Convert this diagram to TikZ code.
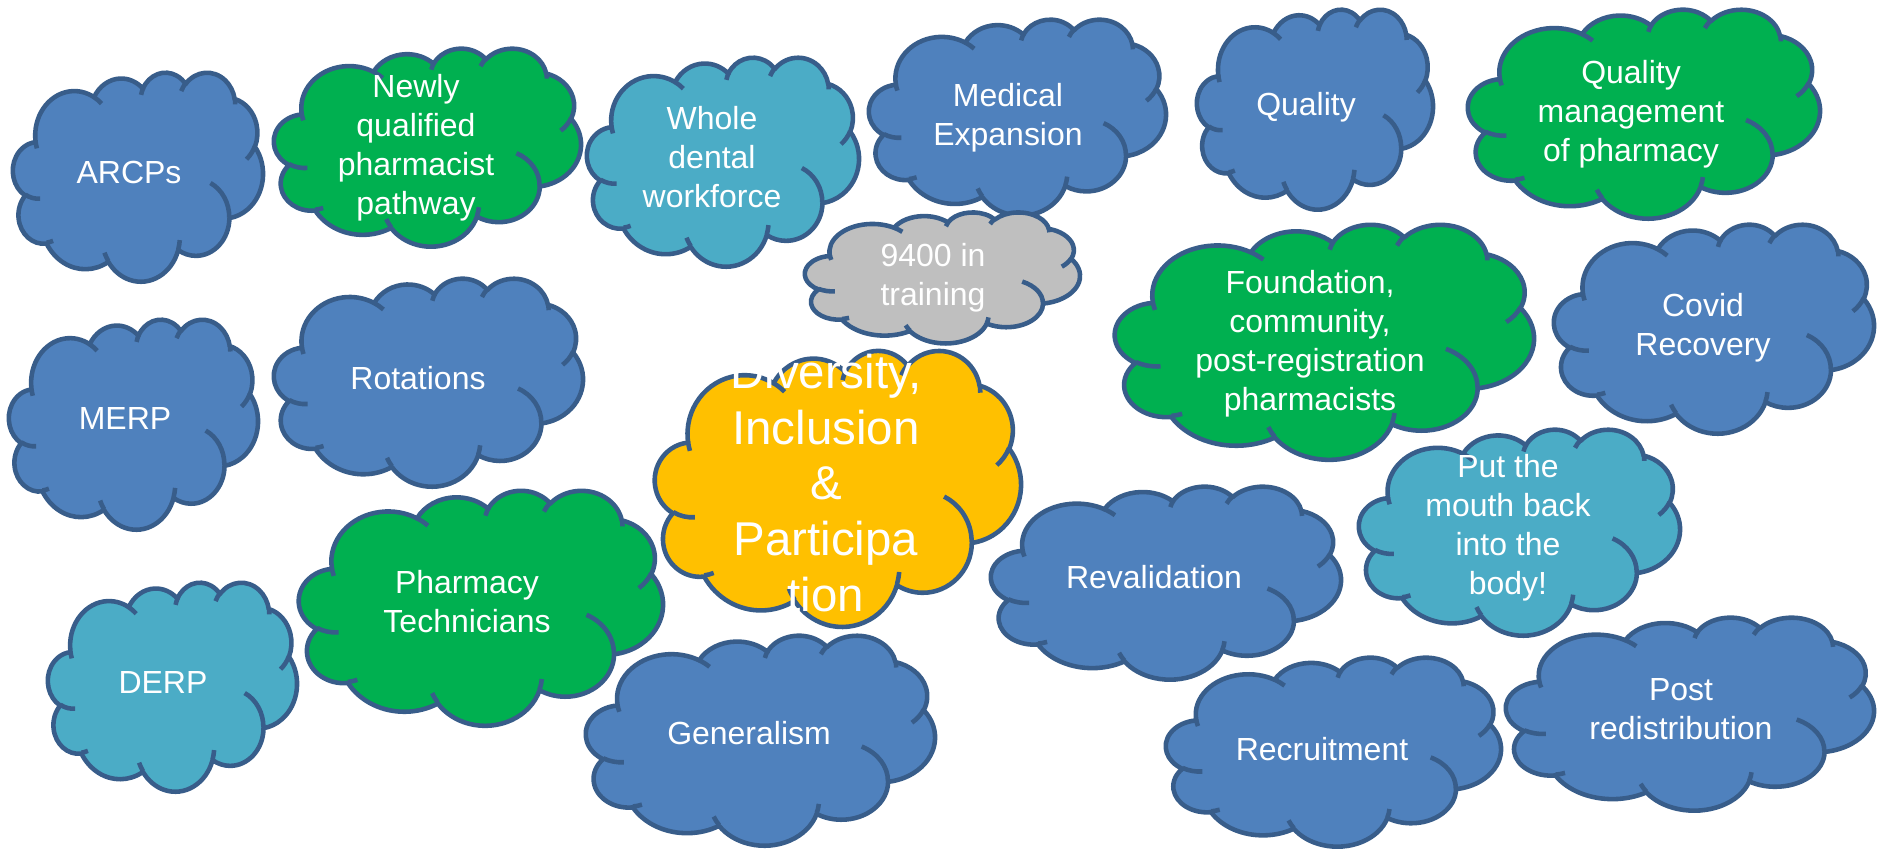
\documentclass[tikz,border=0pt]{standalone}
\usepackage{fontspec}
\setmainfont{Liberation Sans}
\definecolor{cloudblue}{HTML}{4F81BD}
\definecolor{cloudgreen}{HTML}{00B050}
\definecolor{cloudteal}{HTML}{4BACC6}
\definecolor{cloudgray}{HTML}{BFBFBF}
\definecolor{cloudyellow}{HTML}{FFC000}
\definecolor{cloudedge}{HTML}{385D8A}
\tikzset{
  cloudline/.style={draw=cloudedge, line width=2.6pt, line join=round},
  pparc/.style n args={4}{x radius=#1, y radius=#2,
    start angle={atan2(#1*sin(#3),#2*cos(#3))},
    delta angle={mod(atan2(#1*sin(#3+#4),#2*cos(#3+#4))-atan2(#1*sin(#3),#2*cos(#3))+720,360)}},
  cloudtext/.style={text=white, align=center, font=\fontsize{18.2}{22.2}\selectfont},
  bigtext/.style={text=white, align=center, font=\fontsize{27}{31.6}\selectfont}
}
% cloud in the box (#1,#2)-(#3,#4), filled with #5
\newcommand{\cloudat}[5]{%
  \pgfmathsetmacro\cloudsx{(#3-#1)/216}%
  \pgfmathsetmacro\cloudsy{-(#4-#2)/216}%
  \begin{scope}[shift={(#1,#2)}, x=1cm, y=1cm, xscale=\cloudsx, yscale=\cloudsy]
    \draw[cloudline, fill=#5] (0.3900,1.4370)
      \foreach \rx/\ry/\st/\sw in {0.6753/0.9190/-190.487/123.780, 0.5333/0.7267/-144.102/89.945,
        0.4365/0.5945/-145.808/99.723, 0.4857/0.6595/-130.986/117.242, 0.5333/0.7273/-78.709/109.027,
        0.6775/0.9220/-46.267/130.269, 0.5785/0.7867/0.625/114.033, 0.6752/0.9215/22.452/115.173,
        0.7720/1.0543/66.243/75.711, 0.4360/0.5918/-274.942/146.736, 0.4345/0.5945/-246.829/152.519}
      {arc[pparc={\rx}{\ry}{\st}{\sw}]} -- cycle;
    \draw[cloudline]
      \foreach \mx/\my/\rx/\ry/\st/\sw in {0.4693/2.6177/0.4345/0.5945/86.742/26.430,
        0.6928/3.4899/0.4360/0.5918/73.611/11.448, 1.6478/3.9090/0.6752/0.9215/137.624/14.081,
        2.8827/3.4751/0.6752/0.9215/6.453/15.998, 3.4129/2.2954/0.5785/0.7867/-70.292/70.917,
        4.1798/1.5354/0.5333/0.7273/30.318/27.752, 3.8324/0.5426/0.4857/0.6595/-13.744/14.850,
        2.9078/0.3952/0.4857/0.6595/-149.182/18.195, 2.2141/0.4720/0.4365/0.5945/-163.494/17.686,
        1.4000/0.5192/0.6753/0.9190/-66.707/12.319, 0.4127/1.5789/0.6753/0.9190/157.654/11.858}
      {(\mx,\my) arc[pparc={\rx}{\ry}{\st}{\sw}]};
  \end{scope}}
\begin{document}
\begin{tikzpicture}[x=0.02cm, y=-0.02cm]
  \useasboundingbox (0,0) rectangle (1879,850);
  % top row
  \cloudat{13}{72}{263}{281}{cloudblue}
  \node[cloudtext] (arcps) at (129,172) {ARCPs};
  \cloudat{274}{48}{581}{246}{cloudgreen}
  \node[cloudtext] (newly) at (416,148) {Newly\\qualified\\pharmacist\\pathway};
  \cloudat{587}{57}{859}{266}{cloudteal}
  \node[cloudtext] (dental) at (712,157) {Whole\\dental\\workforce};
  \cloudat{869}{19}{1166}{215}{cloudblue}
  \node[cloudtext] (medical) at (1008,118) {Medical\\Expansion};
  \cloudat{1197}{9}{1433}{209}{cloudblue}
  \node[cloudtext] (quality) at (1306,107) {Quality};
  \cloudat{1468}{9}{1820}{218}{cloudgreen}
  \node[cloudtext] (qualmgmt) at (1631,114) {Quality\\management\\of pharmacy};
  % middle
  \cloudat{805}{212}{1080}{343}{cloudgray}
  \node[cloudtext] (training) at (933,278) {9400 in\\training};
  \cloudat{1115}{224}{1534}{459}{cloudgreen}
  \node[cloudtext] (foundation) at (1310,344) {Foundation,\\community,\\post-registration\\pharmacists};
  \cloudat{1554}{224}{1874}{433}{cloudblue}
  \node[cloudtext] (covid) at (1703,328) {Covid\\Recovery};
  \cloudat{9}{319}{258}{529}{cloudblue}
  \node[cloudtext] (merp) at (125,418) {MERP};
  \cloudat{274}{278}{583}{486}{cloudblue}
  \node[cloudtext] (rotations) at (418,378) {Rotations};
  \cloudat{655}{350}{1021}{626}{cloudyellow}
  \node[bigtext] (diversity) at (826,483) {Diversity,\\Inclusion\\\&\\Participa\\tion};
  \cloudat{991}{486}{1341}{679}{cloudblue}
  \node[cloudtext] (revalidation) at (1154,577) {Revalidation};
  \cloudat{1359}{429}{1680}{635}{cloudteal}
  \node[cloudtext] (mouth) at (1508,528) {Put the\\mouth back\\into the\\body!};
  % bottom row
  \cloudat{299}{490}{663}{725}{cloudgreen}
  \node[cloudtext] (pharmtech) at (467,602) {Pharmacy\\Technicians};
  \cloudat{48}{582}{297}{791}{cloudteal}
  \node[cloudtext] (derp) at (163,682) {DERP};
  \cloudat{586}{635}{935}{845}{cloudblue}
  \node[cloudtext] (generalism) at (749,733) {Generalism};
  \cloudat{1166}{657}{1501}{846}{cloudblue}
  \node[cloudtext] (recruitment) at (1322,749) {Recruitment};
  \cloudat{1506}{617}{1874}{810}{cloudblue}
  \node[cloudtext] (postredist) at (1681,709) {Post\\redistribution};
\end{tikzpicture}
\end{document}
